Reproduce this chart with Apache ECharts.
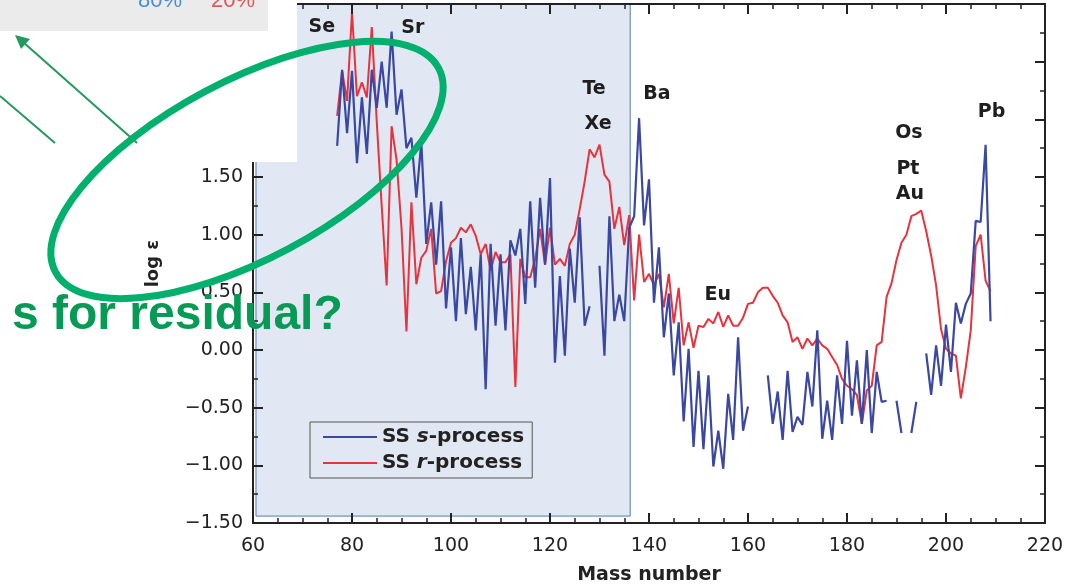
<!DOCTYPE html>
<html>
<head>
<meta charset="utf-8">
<script src="https://cdn.jsdelivr.net/npm/echarts@6/dist/echarts.min.js"></script>
<style>
html, body { margin: 0; padding: 0; background: #fff; }
#chart { width: 1071px; height: 584px; }
</style>
</head>
<body>
<div id="chart"></div>
<script>
// mass numbers A = 77 ... 209
var massNumbers = [
    77, 78, 79, 80, 81, 82, 83, 84, 85, 86,
    87, 88, 89, 90, 91, 92, 93, 94, 95, 96,
    97, 98, 99, 100, 101, 102, 103, 104, 105, 106,
    107, 108, 109, 110, 111, 112, 113, 114, 115, 116,
    117, 118, 119, 120, 121, 122, 123, 124, 125, 126,
    127, 128, 129, 130, 131, 132, 133, 134, 135, 136,
    137, 138, 139, 140, 141, 142, 143, 144, 145, 146,
    147, 148, 149, 150, 151, 152, 153, 154, 155, 156,
    157, 158, 159, 160, 161, 162, 163, 164, 165, 166,
    167, 168, 169, 170, 171, 172, 173, 174, 175, 176,
    177, 178, 179, 180, 181, 182, 183, 184, 185, 186,
    187, 188, 189, 190, 191, 192, 193, 194, 195, 196,
    197, 198, 199, 200, 201, 202, 203, 204, 205, 206,
    207, 208, 209
];

// SS s-process, log eps (null = no value)
var sProcess = [
    1.77, 2.43, 1.88, 2.42, 1.62, 2.19, 1.70, 2.43, 2.10, 2.50,
    2.10, 2.76, 2.04, 2.26, 1.75, 1.84, 1.32, 1.80, 0.92, 1.28,
    0.74, 1.29, 0.36, 0.89, 0.25, 0.97, 0.31, 0.72, 0.17, 0.83,
    -0.34, 0.92, 0.21, 0.83, 0.17, 0.95, 0.82, 1.05, 0.40, 1.29,
    0.54, 1.32, 0.74, 1.49, -0.11, 0.64, -0.05, 0.88, 0.41, 1.15,
    0.21, 0.38, null, 0.73, -0.05, 1.16, 0.25, 0.48, 0.25, 1.06,
    1.16, 2.01, 1.08, 1.48, 0.41, 0.89, 0.11, 0.49, -0.22, 0.24,
    -0.62, 0.01, -0.84, -0.18, -0.86, -0.22, -1.01, -0.70, -1.03, -0.38,
    -0.78, 0.11, -0.70, -0.49, null, null, null, -0.22, -0.64, -0.36,
    -0.78, -0.18, -0.71, -0.58, -0.65, -0.19, -0.49, 0.17, -0.77, -0.44,
    -0.78, -0.22, -0.64, 0.08, -0.57, -0.09, -0.64, 0.00, -0.72, -0.19,
    -0.45, -0.44, null, -0.44, -0.72, null, -0.72, -0.45, null, -0.03,
    -0.39, 0.04, -0.31, 0.22, -0.19, 0.41, 0.23, 0.40, 0.49, 1.12,
    1.11, 1.78, 0.25
];

// SS r-process, log eps
var rProcess = [
    2.03, 2.42, 2.16, 2.93, 2.20, 2.32, 2.19, 2.80, 1.98, 1.25,
    0.56, 1.94, 1.65, 1.06, 0.16, 1.28, 0.57, 0.80, 0.86, 1.05,
    0.49, 0.51, 0.77, 0.93, 0.97, 1.06, 1.02, 1.09, 0.99, 0.83,
    0.92, 0.69, 0.85, 0.76, 0.76, 0.83, -0.32, 0.79, 0.63, 0.63,
    0.79, 1.05, 0.74, 1.06, 0.74, 0.79, 0.73, 0.92, 1.00, 1.22,
    1.46, 1.74, 1.67, 1.78, 1.52, 1.46, 1.05, 1.24, 0.91, 1.17,
    0.43, 1.00, 0.59, 0.66, 0.56, 0.66, 0.37, 0.66, 0.23, 0.54,
    0.04, 0.24, 0.02, 0.21, 0.20, 0.27, 0.23, 0.33, 0.20, 0.30,
    0.21, 0.21, 0.28, 0.40, 0.41, 0.50, 0.54, 0.54, 0.47, 0.41,
    0.30, 0.24, 0.07, 0.11, 0.01, 0.10, 0.04, 0.10, 0.04, 0.01,
    -0.06, -0.13, -0.25, -0.31, -0.34, -0.39, -0.64, -0.35, -0.31, 0.04,
    0.07, 0.46, 0.58, 0.78, 0.93, 1.00, 1.16, 1.18, 1.21, 1.03,
    0.82, 0.56, 0.18, 0.01, -0.03, -0.05, -0.42, -0.15, 0.17, 0.90,
    1.00, 0.60, 0.51
];

// element labels placed at (mass number, log eps)
var elementNames = ['Se', 'Sr', 'Te', 'Xe', 'Ba', 'Eu', 'Os', 'Pt', 'Au', 'Pb'];
var elementMass  = [73.9, 92.3, 128.9, 129.7, 141.6, 153.9, 192.5, 192.3, 192.7, 209.2];
var elementLogE  = [2.80, 2.79, 2.26, 1.96, 2.22, 0.48, 1.88, 1.57, 1.35, 2.06];

// shaded mass range
var shadeRange = [60.6, 136.2];

var seriesNames = ['SS s-process', 'SS r-process'];

function pairs(vals) {
    return massNumbers.map(function (m, i) {
        return [m, vals[i] === null ? '-' : vals[i]];
    });
}

var font = 'DejaVu Sans';
var ink = '#222';

function fmtY(v) {
    return (v < 0 ? '\u2212' : '') + Math.abs(v).toFixed(2);
}

function xAxisOpt(pos) {
    return {
        type: 'value', position: pos, min: 60, max: 220, interval: 20, z: 3,
        axisLine: { onZero: false, lineStyle: { color: ink, width: 2 } },
        axisTick: { inside: true, length: 10, lineStyle: { color: ink, width: 2 } },
        minorTick: { show: true, splitNumber: 4, length: 5, lineStyle: { color: ink, width: 1.5 } },
        splitLine: { show: false },
        axisLabel: { show: pos === 'bottom', margin: 14, color: ink, fontSize: 19, fontFamily: font }
    };
}

function yAxisOpt(pos) {
    return {
        type: 'value', position: pos, min: -1.5, max: 3.0, interval: 0.5, z: 3,
        axisLine: { onZero: false, lineStyle: { color: ink, width: 2 } },
        axisTick: { inside: true, length: 10, lineStyle: { color: ink, width: 2 } },
        minorTick: { show: true, splitNumber: 2, length: 5, lineStyle: { color: ink, width: 1.5 } },
        splitLine: { show: false },
        axisLabel: { show: pos === 'left', margin: 10, color: ink, fontSize: 19, fontFamily: font, formatter: fmtY }
    };
}

var xBottom = xAxisOpt('bottom');
xBottom.name = 'Mass number';
xBottom.nameLocation = 'middle';
xBottom.nameGap = 43;
xBottom.nameTextStyle = { color: ink, fontSize: 19, fontWeight: 'bold', fontFamily: font };

var yLeft = yAxisOpt('left');
yLeft.name = 'log \u03b5';
yLeft.nameLocation = 'middle';
yLeft.nameGap = 91;
yLeft.nameTextStyle = { color: ink, fontSize: 18, fontWeight: 'bold', fontFamily: font };

var green = '#23995b';

var option = {
    animation: false,
    backgroundColor: '#fff',
    grid: { left: 253, right: 26, top: 4, bottom: 61, outerBoundsMode: 'none', containLabel: false },
    xAxis: [xBottom, xAxisOpt('top')],
    yAxis: [yLeft, yAxisOpt('right')],
    legend: {
        data: seriesNames,
        orient: 'vertical',
        left: 310, top: 422,
        padding: [5, 8, 5, 13],
        itemGap: 6,
        itemWidth: 54,
        itemHeight: 2,
        icon: 'rect',
        borderColor: '#555',
        borderWidth: 1,
        formatter: function (name) {
            return name === seriesNames[0] ? '{b|SS }{i|s}{b|-process}' : '{b|SS }{i|r}{b|-process}';
        },
        textStyle: {
            rich: {
                b: { fontFamily: font, fontWeight: 'bold', fontSize: 20, color: ink },
                i: { fontFamily: font, fontWeight: 'bold', fontStyle: 'italic', fontSize: 20, color: ink }
            }
        }
    },
    series: [
        {
            name: seriesNames[1],
            type: 'line',
            data: pairs(rProcess),
            symbol: 'none',
            connectNulls: false,
            color: '#e8323c',
            lineStyle: { width: 2, color: '#e8323c' },
            z: 2
        },
        {
            name: seriesNames[0],
            type: 'line',
            data: pairs(sProcess),
            symbol: 'none',
            connectNulls: false,
            color: '#3a47a3',
            lineStyle: { width: 2.2, color: '#3a47a3' },
            z: 2.5
        },
        {
            name: 'elements',
            type: 'scatter',
            data: elementNames.map(function (n, i) { return [elementMass[i], elementLogE[i], n]; }),
            symbolSize: 0.5,
            itemStyle: { color: ink, opacity: 1 },
            z: 2,
            label: {
                show: true,
                position: 'inside',
                formatter: function (p) { return p.data[2]; },
                color: '#1e1e1e',
                opacity: 1,
                fontFamily: font,
                fontWeight: 'bold',
                fontSize: 19
            },
            markArea: {
                silent: true,
                z: 1,
                itemStyle: { color: '#e1e8f3', borderColor: '#5477b9', borderWidth: 1 },
                data: [[{ xAxis: shadeRange[0], yAxis: -1.44 }, { xAxis: shadeRange[1], yAxis: 3.0 }]]
            }
        }
    ],
    graphic: [
        { type: 'rect', z: 100, shape: { x: 0, y: 0, width: 297, height: 162 }, style: { fill: '#fff' } },
        { type: 'rect', z: 101, shape: { x: 0, y: 0, width: 268, height: 31 }, style: { fill: '#ebebeb' } },
        { type: 'text', z: 102, x: 160, y: 12,
          style: { text: '80%', fill: '#4a8fd4', font: '22px "Liberation Sans"', align: 'center', verticalAlign: 'bottom' } },
        { type: 'text', z: 102, x: 233, y: 12,
          style: { text: '20%', fill: '#e05858', font: '22px "Liberation Sans"', align: 'center', verticalAlign: 'bottom' } },
        { type: 'line', z: 102, shape: { x1: 55, y1: 143, x2: 0, y2: 96 }, style: { stroke: green, lineWidth: 2 } },
        { type: 'line', z: 102, shape: { x1: 137, y1: 143, x2: 23, y2: 42 }, style: { stroke: green, lineWidth: 2 } },
        { type: 'polygon', z: 102, shape: { points: [[15, 35], [30, 39], [21, 49]] }, style: { fill: green } },
        { type: 'ellipse', z: 103, x: 247, y: 170, rotation: 28 * Math.PI / 180,
          shape: { cx: 0, cy: 0, rx: 217, ry: 89 },
          style: { fill: 'none', stroke: '#00b06c', lineWidth: 7 } },
        { type: 'text', z: 104, x: 12, y: 316,
          style: { text: 's for residual?', fill: '#069a55', font: 'bold 48px "Liberation Sans"', verticalAlign: 'middle' } }
    ]
};

var myChart = echarts.init(document.getElementById('chart'));
myChart.setOption(option);
</script>
</body>
</html>
